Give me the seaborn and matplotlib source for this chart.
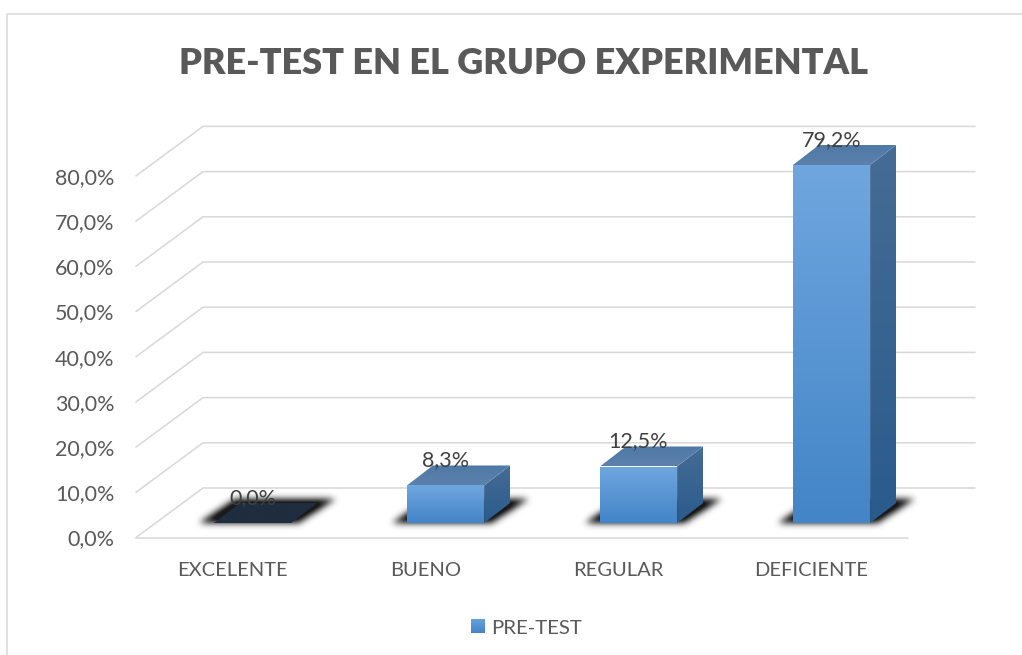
import numpy as np
import pandas as pd
import matplotlib
matplotlib.use("Agg")
import matplotlib.pyplot as plt
import matplotlib.colors as mcolors
from matplotlib.lines import Line2D
from matplotlib.path import Path
from matplotlib.patches import PathPatch
from matplotlib.transforms import Affine2D, IdentityTransform
import seaborn as sns

CATEGORIAS = ["EXCELENTE", "BUENO", "REGULAR", "DEFICIENTE"]
VALORES = [0.0, 8.3, 12.5, 79.2]
SERIE = "PRE-TEST"
TITULO = "PRE-TEST EN EL GRUPO EXPERIMENTAL"
TICKS_Y = [0, 10, 20, 30, 40, 50, 60, 70, 80]

W, H = 1022, 655
GRIS_LINEA = "#D9D9D9"
GRIS_TEXTO = "#595959"

sns.set_theme(style="white")
plt.rcParams["font.family"] = ["Lato", "DejaVu Sans"]


def fmt(v):
    return f"{v:.1f}%".replace(".", ",")


fig = plt.figure(figsize=(W / 100, H / 100), dpi=100)
# eje frontal: x 136..908, y 537.5 (0 %) con 4.52 px por punto
ax = fig.add_axes([136 / W, (H - 537.5) / H, 772 / W, 361.6 / H])

df = pd.DataFrame({"categoria": CATEGORIAS, "valor": VALORES})
sns.barplot(data=df, x="categoria", y="valor", width=0.4, color="#5597DB",
            saturation=1, label=SERIE, linewidth=0, ax=ax, zorder=3)
ax.set_xlim(-0.5, 3.5)
ax.set_ylim(0, 80)
ax.set_autoscale_on(False)
ax.set_xlabel("")
ax.set_ylabel("")
ax.set_yticks(TICKS_Y)
ax.set_yticklabels([fmt(t) for t in TICKS_Y], fontsize=15.5, color=GRIS_TEXTO)
ax.tick_params(axis="y", length=0, pad=15.7)
ax.tick_params(axis="x", length=0, pad=18, labelsize=14.5, labelcolor=GRIS_TEXTO)
sns.despine(ax=ax, left=True, bottom=True)
ax.patch.set_alpha(0)

ident = IdentityTransform()


def a_display(xd, yd):
    return ax.transData.transform((xd, yd))


def degradado(verts, c_arriba, c_abajo, z):
    # poligono en pixeles de pantalla relleno con degradado vertical
    verts = np.array(verts)
    x0, y0 = verts.min(axis=0)
    x1, y1 = verts.max(axis=0)
    cmap = mcolors.LinearSegmentedColormap.from_list("g", [c_abajo, c_arriba])
    im = ax.imshow(np.linspace(0, 1, 64).reshape(-1, 1), cmap=cmap, origin="lower",
                   extent=(x0, x1, y0, y1), aspect="auto", transform=ident,
                   zorder=z, interpolation="bilinear")
    # solo el poligono recorta, no la caja de los ejes
    im.set_clip_box(fig.bbox)
    im.set_clip_path(PathPatch(Path(np.vstack([verts, verts[0]]), closed=True), transform=ident))
    return im


def sombra(poly, z, sigma=3.4):
    xs = poly[:, 0]
    ys = poly[:, 1]
    x0, x1 = int(xs.min()) - 12, int(xs.max()) + 12
    y0, y1 = int(ys.min()) - 12, int(ys.max()) + 12
    gx, gy = np.meshgrid(np.arange(x0, x1), np.arange(y0, y1))
    pts = np.column_stack([gx.ravel(), gy.ravel()])
    m = Path(poly).contains_points(pts).reshape(gx.shape).astype(float)
    k = np.exp(-0.5 * (np.arange(-10, 11) / sigma) ** 2)
    k /= k.sum()
    m = np.apply_along_axis(lambda r: np.convolve(r, k, mode="same"), 0, m)
    m = np.apply_along_axis(lambda r: np.convolve(r, k, mode="same"), 1, m)
    rgba = np.zeros(m.shape + (4,))
    rgba[..., 3] = np.clip(m * 1.05, 0, 0.9)
    ax.imshow(rgba, origin="lower", extent=(x0, x1, y0, y1), aspect="auto",
              transform=ident, zorder=z, clip_on=False)


# perspectiva en pixeles
FONDO = (67, 49.5)   # pared trasera
PROF = (26, 20)      # profundidad de cada barra
DESP = (20, 14.5)    # barra respecto al eje frontal

# rejilla: diagonal lateral + linea en la pared trasera
for t in TICKS_Y:
    x0, y0 = a_display(-0.5, t)
    x1, _ = a_display(3.5, t)
    ax.add_line(Line2D([x0, x0 + FONDO[0], x1 + FONDO[0]],
                       [y0, y0 + FONDO[1], y0 + FONDO[1]],
                       transform=ident, color=GRIS_LINEA, lw=1.15, clip_on=False, zorder=1))
x0, y0 = a_display(-0.5, 0)
x1, _ = a_display(3.5, 0)
ax.add_line(Line2D([x0, x1], [y0, y0], transform=ident, color=GRIS_LINEA, lw=1.15,
                   clip_on=False, zorder=1))

# caras 3D a partir de las barras de seaborn
mover = ax.transData + Affine2D().translate(*DESP)
for p, v in zip(ax.patches, VALORES):
    p.set_transform(mover)
    p.set_clip_on(False)
    bx0, by0 = a_display(p.get_x(), 0)
    bx1, by1 = a_display(p.get_x() + p.get_width(), p.get_height())
    bx0, bx1 = bx0 + DESP[0], bx1 + DESP[0]
    by0, by1 = by0 + DESP[1], by1 + DESP[1]
    dx, dy = PROF

    sombra(np.array([(bx0 - 16, by0 - 1), (bx1 + 6, by0 - 1),
                     (bx1 + dx + 17, by0 + dy + 3), (bx0 + dx - 6, by0 + dy + 3)]), 2)

    if v == 0:
        degradado([(bx0, by1), (bx1, by1), (bx1 + dx, by1 + dy), (bx0 + dx, by1 + dy)],
                  "#1F2D3F", "#1F2D3F", 4)
    else:
        degradado([(bx0, by0), (bx1, by0), (bx1, by1), (bx0, by1)], "#6FA6DF", "#4385C7", 4)
        degradado([(bx1, by0), (bx1 + dx, by0 + dy), (bx1 + dx, by1 + dy), (bx1, by1)],
                  "#456C94", "#2A5B8D", 4)
        degradado([(bx0, by1), (bx1, by1), (bx1 + dx, by1 + dy), (bx0 + dx, by1 + dy)],
                  "#4F79A6", "#5C81AC", 4)

    # etiqueta de dato sobre la barra
    ax.annotate(fmt(v), xy=(p.get_x() + p.get_width() / 2, p.get_height()), xycoords=mover,
                xytext=(0, 25), textcoords="offset pixels", ha="center", va="center",
                fontsize=15.5, color="#404040", zorder=6, annotation_clip=False)

fig.text(523 / W, (H - 63) / H, TITULO, fontsize=26.05, fontweight="heavy",
         color=GRIS_TEXTO, ha="center", va="center")

# leyenda
handles, labels = ax.get_legend_handles_labels()
leg = ax.legend(handles, labels, loc="center", bbox_to_anchor=(526.5 / W, (H - 628) / H),
                bbox_transform=fig.transFigure, frameon=False, fontsize=14.7,
                handlelength=0.68, handleheight=0.68, handletextpad=0.3, labelcolor=GRIS_TEXTO)
fig.canvas.draw()
caja = leg.get_patches()[0].get_window_extent()
im = degradado([(caja.x0, caja.y0), (caja.x1, caja.y0), (caja.x1, caja.y1), (caja.x0, caja.y1)],
               "#6BA3DE", "#4385C7", 8)

# marco del grafico
fig.add_artist(Line2D([7 / W, 7 / W, 1], [0, (H - 14) / H, (H - 14) / H],
                      color=GRIS_LINEA, lw=1.1))

fig.savefig("out.png", dpi=100)
plt.close(fig)
